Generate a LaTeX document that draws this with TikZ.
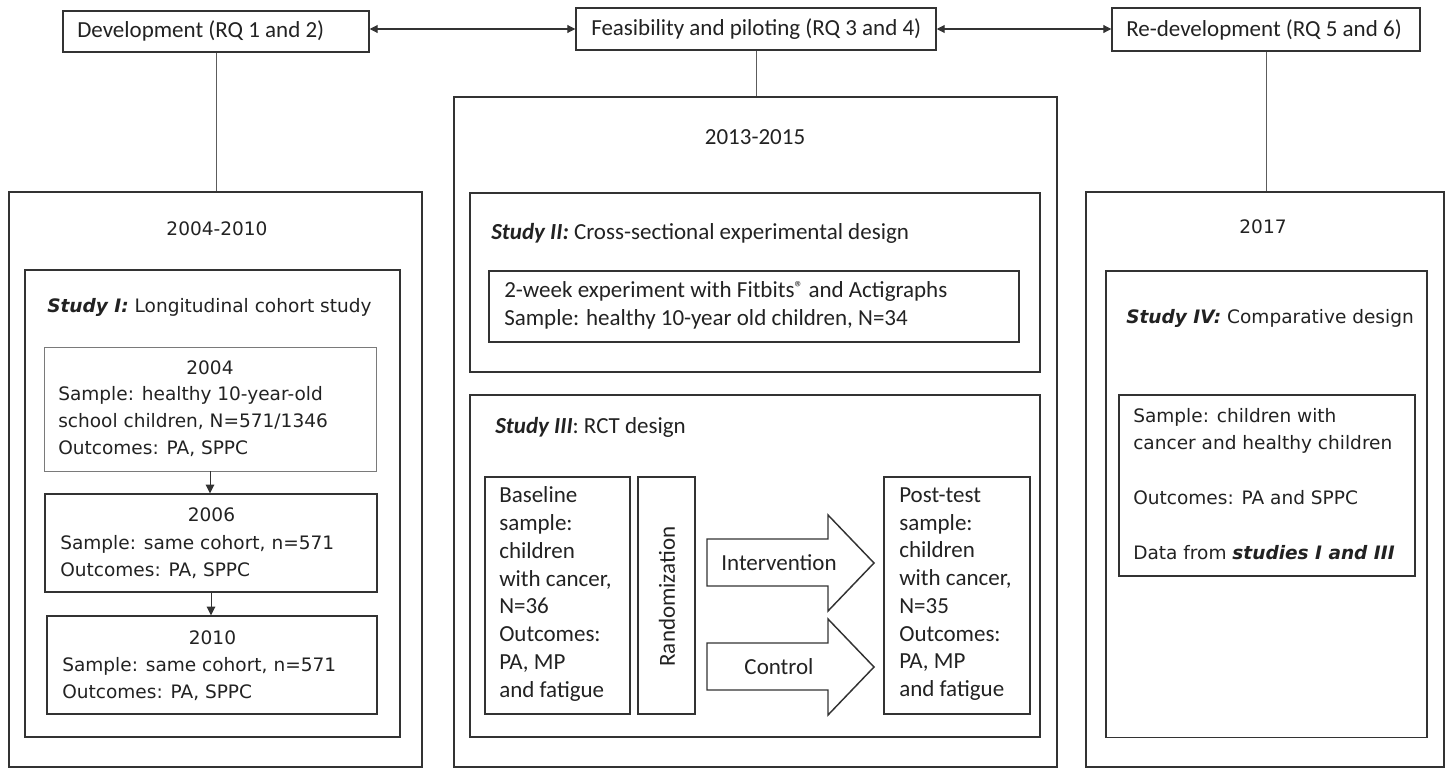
\documentclass[tikz,border=0pt]{standalone}
\usepackage{fontspec}
\setmainfont{Carlito}
\newfontfamily\dvs{DejaVu Sans}
\usetikzlibrary{arrows.meta,fit}
\definecolor{ink}{HTML}{222222}
\definecolor{edge}{HTML}{333333}
\begin{document}
\begin{tikzpicture}[x=0.75pt,y=-0.75pt,
  box/.style={draw=edge,line width=1.1pt,inner sep=0pt},
  thinbox/.style={draw=edge!65,line width=0.6pt,inner sep=0pt},
  cal/.style={font=\fontsize{17.25}{20.8}\selectfont,text=ink,inner sep=0pt},
  dv/.style={font=\dvs\fontsize{13.9}{20.25}\selectfont,text=ink,inner sep=0pt},
  dvr/.style={font=\dvs\fontsize{13.9}{20.6}\selectfont,text=ink,inner sep=0pt},
  link/.style={draw=edge!80,line width=0.7pt},
  both/.style={draw=edge,line width=0.8pt,{Triangle[length=6pt,width=6pt]}-{Triangle[length=6pt,width=6pt]}},
  down/.style={draw=edge,line width=0.7pt,-{Triangle[length=6.5pt,width=6.5pt]}},
  blockarrow/.style={draw=edge,line width=1.1pt,fill=white,line join=miter}
]
\useasboundingbox (0,0) rectangle (1445,768);

% ---- top boxes
\node[box,fit={(63,11) (369,52)}] (dev) {};
\node[cal,anchor=west] (devt) at (77,31) {Development (RQ 1 and 2)};
\node[box,fit={(576,8) (936,50)}] (feas) {};
\node[cal,anchor=west] (feast) at (591,29) {Feasibility and piloting (RQ 3 and 4)};
\node[box,fit={(1112,8) (1420,51)}] (redev) {};
\node[cal,anchor=west] (redevt) at (1126,29.5) {Re-development (RQ 5 and 6)};

% ---- left column
\node[box,fit={(9,192) (422,767)}] (lout) {};
\node[dv] (lyear) at (217,229) {2004-2010};
\node[box,fit={(25,270) (400,737)}] (s1box) {};
\node[dv,anchor=west] (s1t) at (47,307.5) {\textbf{\textit{Study I:}} Longitudinal cohort study};
\node[thinbox,fit={(44,347) (376,471)}] (b2004) {};
\node[dv] (y2004) at (210,367.5) {2004};
\node[dv,anchor=west,align=left] (t2004) at (58,422) {Sample: healthy 10-year-old\\school children, N=571/1346\\Outcomes: PA, SPPC};
\node[box,fit={(45,494) (377,592)}] (b2006) {};
\node[dv] (y2006) at (211.5,515) {2006};
\node[dv,anchor=west,align=left] (t2006) at (60,557) {Sample: same cohort, n=571\\Outcomes: PA, SPPC};
\node[box,fit={(47,616) (377,714)}] (b2010) {};
\node[dv] (y2010) at (212.5,638) {2010};
\node[dv,anchor=west,align=left] (t2010) at (62,679.5) {Sample: same cohort, n=571\\Outcomes: PA, SPPC};

% ---- middle column
\node[box,fit={(454,97) (1057,767)}] (mout) {};
\node[cal] (myear) at (755,137) {2013-2015};
\node[box,fit={(470,193) (1040,372)}] (s2box) {};
\node[cal,anchor=west] (s2t) at (491,233) {\textbf{\textit{Study II:}} Cross-sectional experimental design};
\node[box,fit={(489,271) (1019,342)}] (s2in) {};
\node[cal,anchor=west,align=left] (s2txt) at (504,305.5) {2-week experiment with Fitbits\raisebox{0.35ex}{\fontsize{13}{13}\selectfont ®} and Actigraphs\\Sample: healthy 10-year old children, N=34};
\node[box,fit={(470,395) (1040,737)}] (s3box) {};
\node[cal,anchor=west] (s3t) at (495,427) {\textbf{\textit{Study III}}: RCT design};
\node[box,fit={(485,477) (630,714)}] (base) {};
\node[cal,anchor=west,align=left] (baset) at (499,594) {Baseline\\sample:\\children\\with cancer,\\N=36\\Outcomes:\\PA, MP\\and fatigue};
\node[box,fit={(638,477) (695,714)}] (rand) {};
\node[cal,rotate=90] (randt) at (667,596.5) {Randomization};
\node[box,fit={(884,477) (1030,714)}] (post) {};
\node[cal,anchor=west,align=left] (postt) at (899,594) {Post-test\\sample:\\children\\with cancer,\\N=35\\Outcomes:\\PA, MP\\and fatigue};
\draw[blockarrow] (707,539) -- (828,539) -- (828,515) -- (874,563) -- (828,611) -- (828,586) -- (707,586) -- cycle;
\node[cal] (intt) at (779,563) {Intervention};
\draw[blockarrow] (707,643) -- (828,643) -- (828,619) -- (874,667) -- (828,715) -- (828,690) -- (707,690) -- cycle;
\node[cal] (contt) at (779,667) {Control};

% ---- right column
\node[box,fit={(1086,192) (1444,767)}] (rout) {};
\node[dv] (ryear) at (1263,227) {2017};
\node[box,fit={(1106,271) (1427,737.5)}] (s4box) {};
\node[dv,anchor=west] (s4t) at (1126,318) {\textbf{\textit{Study IV:}} Comparative design};
\node[box,fit={(1119,395) (1415,576)}] (s4in) {};
\node[dvr,anchor=west,align=left] (s4txt) at (1133,484) {Sample: children with\\cancer and healthy children\\[20.6pt]Outcomes: PA and SPPC\\[20.6pt]Data from \textbf{\textit{studies I and III}}};

% ---- connectors
\draw[both] (dev.east |- feas.west) -- (feas.west);
\draw[both] (feas.east) -- (feas.east -| redev.west);
\draw[link] (dev.south) -- (dev.south |- lout.north);
\draw[link] (feas.south) -- (feas.south |- mout.north);
\draw[link] (redev.south) -- (redev.south |- rout.north);
\draw[down] (b2004.south) -- (b2004.south |- b2006.north);
\draw[down] (b2006.south) -- (b2006.south |- b2010.north);
\end{tikzpicture}
\end{document}
